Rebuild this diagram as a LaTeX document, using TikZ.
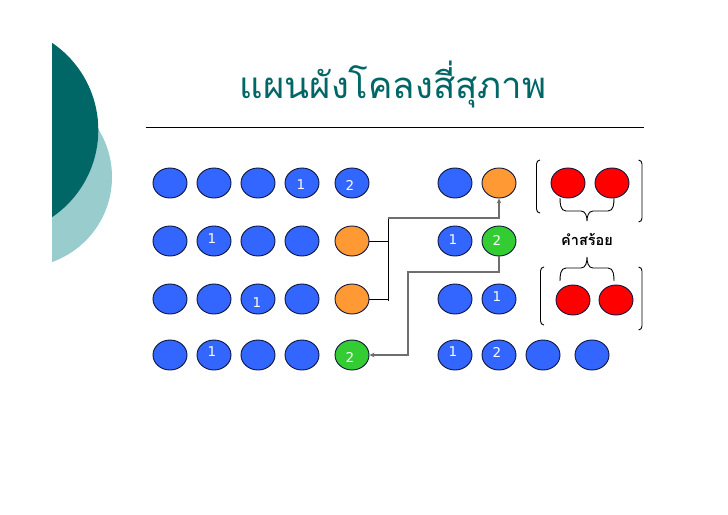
\documentclass[tikz,border=0pt]{standalone}
\usepackage{fontspec}
\usetikzlibrary{shapes.geometric,arrows.meta}
\newfontfamily\thaifont[Script=Thai]{Loma}
\newfontfamily\numfont{DejaVu Sans}
\definecolor{tealD}{RGB}{0,102,102}
\definecolor{tealL}{RGB}{153,204,204}
\definecolor{ballB}{RGB}{51,102,255}
\definecolor{ballO}{RGB}{255,153,51}
\definecolor{ballG}{RGB}{51,204,51}
\definecolor{ballR}{RGB}{255,0,0}
\definecolor{rim}{RGB}{15,20,60}
\definecolor{grayline}{RGB}{110,110,110}
\tikzset{
  ball/.style={ellipse,draw=rim,line width=0.9pt,minimum width=34pt,minimum height=30pt,inner sep=0pt},
  bb/.style={ball,fill=ballB},
  ob/.style={ball,fill=ballO},
  gb/.style={ball,fill=ballG},
  rb/.style={ball,fill=ballR},
  num/.style={text=white,font=\numfont\fontsize{13.5}{15}\selectfont,inner sep=0pt},
  blk/.style={draw=black,line width=0.9pt},
  gry/.style={draw=grayline,line width=1.2pt},
  tip/.style={-{Stealth[length=5pt,width=4.5pt]}},
  curly/.style={draw=black,line width=0.9pt},
}
\begin{document}
\begin{tikzpicture}[x=1pt,y=-1pt]
\useasboundingbox (0,0) rectangle (728,514);
\fill[white] (0,0) rectangle (728,514);
% decorative shapes
\begin{scope}
  \clip (52,0) rectangle (728,514);
  \fill[tealL] (21.8,177) circle[radius=90.2pt];
  \fill[tealD] (-7,130) circle[radius=105.3pt];
\end{scope}
% title
\node[text=tealD,font=\thaifont\fontsize{36.5}{42}\selectfont,inner sep=0pt] (title) at (393,84) {แผนผังโคลงสี่สุภาพ};
\coordinate (ruleL) at (146,127);
\coordinate (ruleR) at (644,127);
\draw[line width=0.9pt] (ruleL) -- (ruleR);
% left block
\node[bb] (a11) at (170,183) {};
\node[bb] (a12) at (214,183) {};
\node[bb] (a13) at (258,183) {};
\node[bb] (a14) at (302,183) {};
\node[bb] (a15) at (352,183) {};
\node[bb] (a21) at (170,241) {};
\node[bb] (a22) at (214,241) {};
\node[bb] (a23) at (258,241) {};
\node[bb] (a24) at (302,241) {};
\node[ob] (a25) at (352,241) {};
\node[bb] (a31) at (170,299) {};
\node[bb] (a32) at (214,299) {};
\node[bb] (a33) at (258,299) {};
\node[bb] (a34) at (302,299) {};
\node[ob] (a35) at (352,299) {};
\node[bb] (a41) at (170,355) {};
\node[bb] (a42) at (214,355) {};
\node[bb] (a43) at (258,355) {};
\node[bb] (a44) at (302,355) {};
\node[gb] (a45) at (352,355) {};
\node[num] (n14) at (301,185) {1};
\node[num] (n15) at (350,185) {2};
\node[num] (n22) at (212,239) {1};
\node[num] (n33) at (257,303) {1};
\node[num] (n42) at (212,352) {1};
\node[num] (n45) at (350,357) {2};
% right block
\node[bb] (b11) at (455,183) {};
\node[ob] (b12) at (499,183) {};
\node[bb] (b21) at (455,241) {};
\node[gb] (b22) at (499,241) {};
\node[bb] (b31) at (455,299) {};
\node[bb] (b32) at (499,299) {};
\node[bb] (b41) at (455,355) {};
\node[bb] (b42) at (499,355) {};
\node[bb] (b43) at (543,355) {};
\node[bb] (b44) at (592,355) {};
\node[num] (m21) at (453,240) {1};
\node[num] (m22) at (497,240) {2};
\node[num] (m32) at (497,297) {1};
\node[num] (m41) at (453,352) {1};
\node[num] (m42) at (497,352) {2};
% red groups
\node[rb] (r11) at (568,183) {};
\node[rb] (r12) at (612,183) {};
\node[rb] (r21) at (573,300) {};
\node[rb] (r22) at (616,300) {};
% connectors
\coordinate (jt) at (388,218);
\coordinate (jb) at (388,301);
\coordinate (kk) at (408,272);
\draw[blk] (jt) -- (jb);
\draw[blk] (a25.east) -- (a25.east -| jt);
\draw[blk] (a35.east) -- (a35.east -| jt);
\draw[gry,tip] (jt) -| (b12.south);
\draw[gry,tip] (b22.south) |- (kk) |- (a45.east);
% brackets
\draw[curly] (540,160) to[out=180,in=90] (536.5,164) -- (536.5,209) to[out=-90,in=180] (540,213);
\draw[curly] (638.5,160) to[out=0,in=90] (642,164) -- (642,218) to[out=-90,in=0] (638.5,222);
\draw[curly] (544,267) to[out=180,in=90] (540.5,271) -- (540.5,321) to[out=-90,in=180] (544,325);
\draw[curly] (638.5,267) to[out=0,in=90] (642,271) -- (642,326) to[out=-90,in=0] (638.5,330);
% braces
\draw[curly] (560,198) to[out=-90,in=180] (566,211) -- (581,211) to[out=0,in=90] (587,221)
             to[out=90,in=180] (593,211) -- (608,211) to[out=0,in=-90] (614,198);
\draw[curly] (560,281) to[out=90,in=180] (566,268) -- (581,268) to[out=0,in=-90] (587,257)
             to[out=-90,in=180] (593,268) -- (608,268) to[out=0,in=90] (614,281);
\node[font=\thaifont\bfseries\fontsize{14.5}{16}\selectfont,inner sep=0pt] (lab) at (587,239) {คำสร้อย};
\end{tikzpicture}
\end{document}
